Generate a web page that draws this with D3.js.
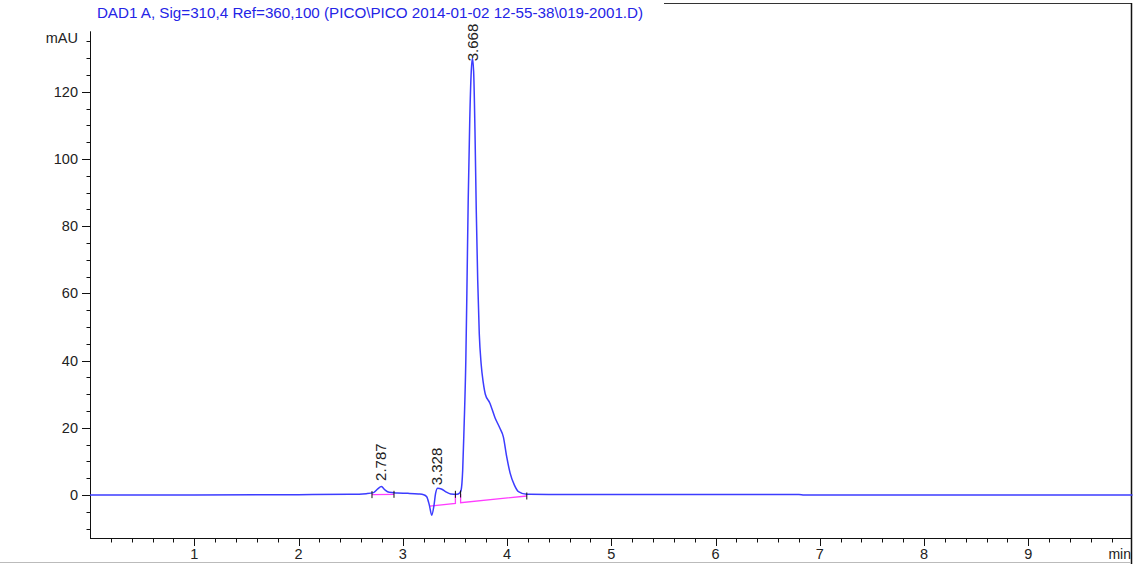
<!DOCTYPE html>
<html><head><meta charset="utf-8">
<script src="https://cdn.jsdelivr.net/npm/d3@7"></script>
<style>
html,body{margin:0;padding:0;background:#fff;}
svg{display:block;font-family:"Liberation Sans",Arial,sans-serif;}
</style></head>
<body>
<svg id="chart" width="1133" height="564"></svg>
<script>
// ---- data ----
const title = "DAD1 A, Sig=310,4 Ref=360,100 (PICO\\PICO 2014-01-02 12-55-38\\019-2001.D)";
const yUnit = "mAU";
const xUnit = "min";
const times = [0, 1.0, 2.0, 2.5, 2.65, 2.72, 2.76, 2.795, 2.83, 2.87, 2.95, 3.05, 3.15, 3.2, 3.23, 3.255, 3.278, 3.30, 3.315, 3.335, 3.37, 3.41, 3.46, 3.52, 3.545, 3.56, 3.575, 3.588, 3.605, 3.615, 3.628, 3.643, 3.657, 3.668, 3.68, 3.693, 3.705, 3.719, 3.734, 3.752, 3.772, 3.792, 3.835, 3.885, 3.93, 3.965, 3.997, 4.03, 4.07, 4.11, 4.19, 4.4, 6.8, 6.85, 10.0];
const signal = [0, 0, 0.1, 0.2, 0.4, 0.7, 1.8, 2.5, 1.5, 0.8, 0.6, 0.5, 0.3, 0.1, -0.5, -3, -6, -3, 0.5, 2.0, 1.8, 1.0, 0.3, 0.2, 0.6, 1.5, 7.4, 20, 40, 60, 88, 112, 126, 130, 126, 108, 85, 64, 48, 39, 33.5, 30, 27.4, 23, 20, 17.3, 11.4, 6.5, 3, 1, 0.2, 0.15, 0.15, 0, 0];
const peakTimes = [2.787, 3.328, 3.668];
const peakLabels = ["2.787", "3.328", "3.668"];
const peakLabelAt = [3.3, 2.0, 128.2];
// integration baselines (time, value) per peak
const baseline1 = [[2.705, 0.1], [2.916, 0.2]];
const baseline2 = [[3.26, -3.3], [3.505, -2.5], [3.505, 0.2]];
const baseline3 = [[3.555, 0.3], [3.555, -2.3], [4.19, -0.3]];
const integTicks = [[2.705, 0.1], [2.916, 0.2], [3.505, 0.2], [3.555, 0.3], [4.19, -0.3]];
const xMajor = [1, 2, 3, 4, 5, 6, 7, 8, 9];
const yMajor = [0, 20, 40, 60, 80, 100, 120];

// ---- layout ----
const svg = d3.select("#chart");
const x = d3.scaleLinear().domain([0, 10]).range([90, 1132.5]);
const y = d3.scaleLinear().domain([-12.8, 138]).range([538, 31.3]);

// frame
svg.append("line").attr("x1", 664).attr("x2", 1131.5).attr("y1", 3.5).attr("y2", 3.5).attr("stroke", "#333").attr("stroke-width", 1);
svg.append("line").attr("x1", 1131.5).attr("x2", 1131.5).attr("y1", 3).attr("y2", 564).attr("stroke", "#111").attr("stroke-width", 1.5);
svg.append("line").attr("x1", 0).attr("x2", 1131).attr("y1", 562.5).attr("y2", 562.5).attr("stroke", "#bbb").attr("stroke-width", 1);

// title
svg.append("text").attr("x", 370).attr("y", 17.5).attr("text-anchor", "middle")
  .attr("font-size", 15.2).attr("fill", "#2424e6").text(title);

// y axis
const yMinor = d3.range(-10, 136, 5);
const gy = svg.append("g");
gy.append("line").attr("x1", 90.5).attr("x2", 90.5).attr("y1", y(138)).attr("y2", 538.5).attr("stroke", "#111");
gy.selectAll(".ym").data(yMinor).join("line")
  .attr("x1", d => yMajor.includes(d) ? 82 : 86.5).attr("x2", 90.5)
  .attr("y1", d => Math.round(y(d)) + 0.5).attr("y2", d => Math.round(y(d)) + 0.5).attr("stroke", "#111");
gy.selectAll(".yl").data(yMajor).join("text")
  .attr("x", 78).attr("y", d => y(d) + 5).attr("text-anchor", "end")
  .attr("font-size", 14.5).attr("fill", "#222").text(d => d);
svg.append("text").attr("x", 78).attr("y", 43).attr("text-anchor", "end")
  .attr("font-size", 14.5).attr("fill", "#222").text(yUnit);

// x axis
const xMinor = d3.range(1, 50).map(i => i * 0.2);
const gx = svg.append("g");
gx.append("line").attr("x1", 90).attr("x2", 1131).attr("y1", 538.5).attr("y2", 538.5).attr("stroke", "#111");
gx.selectAll(".xm").data(xMinor).join("line")
  .attr("x1", d => Math.round(x(d)) + 0.5).attr("x2", d => Math.round(x(d)) + 0.5)
  .attr("y1", 538.5).attr("y2", d => xMajor.some(m => Math.abs(m - d) < 1e-6) ? 546 : 542.5)
  .attr("stroke", "#111");
gx.selectAll(".xl").data(xMajor).join("text")
  .attr("x", d => x(d)).attr("y", 559).attr("text-anchor", "middle")
  .attr("font-size", 14.5).attr("fill", "#222").text(d => d);
svg.append("text").attr("x", 1131).attr("y", 559).attr("text-anchor", "end")
  .attr("font-size", 14).attr("fill", "#222").text(xUnit);

// baselines (pink)
const bl = d3.line().x(d => x(d[0])).y(d => y(d[1]));
[baseline1, baseline2, baseline3].forEach(b => {
  svg.append("path").attr("d", bl(b)).attr("fill", "none").attr("stroke", "#ff3cff").attr("stroke-width", 1.3);
});

// trace
const data = times.map((t, i) => [t, signal[i]]);
const line = d3.line().x(d => x(d[0])).y(d => y(d[1])).curve(d3.curveMonotoneX);
svg.append("path").attr("d", line(data)).attr("fill", "none")
  .attr("stroke", "#3c3cff").attr("stroke-width", 1.5);

// integration ticks
svg.selectAll(".it").data(integTicks).join("line")
  .attr("x1", d => x(d[0])).attr("x2", d => x(d[0]))
  .attr("y1", d => y(d[1]) - 3.5).attr("y2", d => y(d[1]) + 3.5)
  .attr("stroke", "#111").attr("stroke-width", 1);

// peak labels
svg.selectAll(".pl").data(peakTimes).join("text")
  .attr("transform", (d, i) => `translate(${x(d) + 5.5},${y(peakLabelAt[i]) - 3}) rotate(-90)`)
  .attr("font-size", 15).attr("fill", "#222").text((d, i) => peakLabels[i]);
</script>
</body></html>
